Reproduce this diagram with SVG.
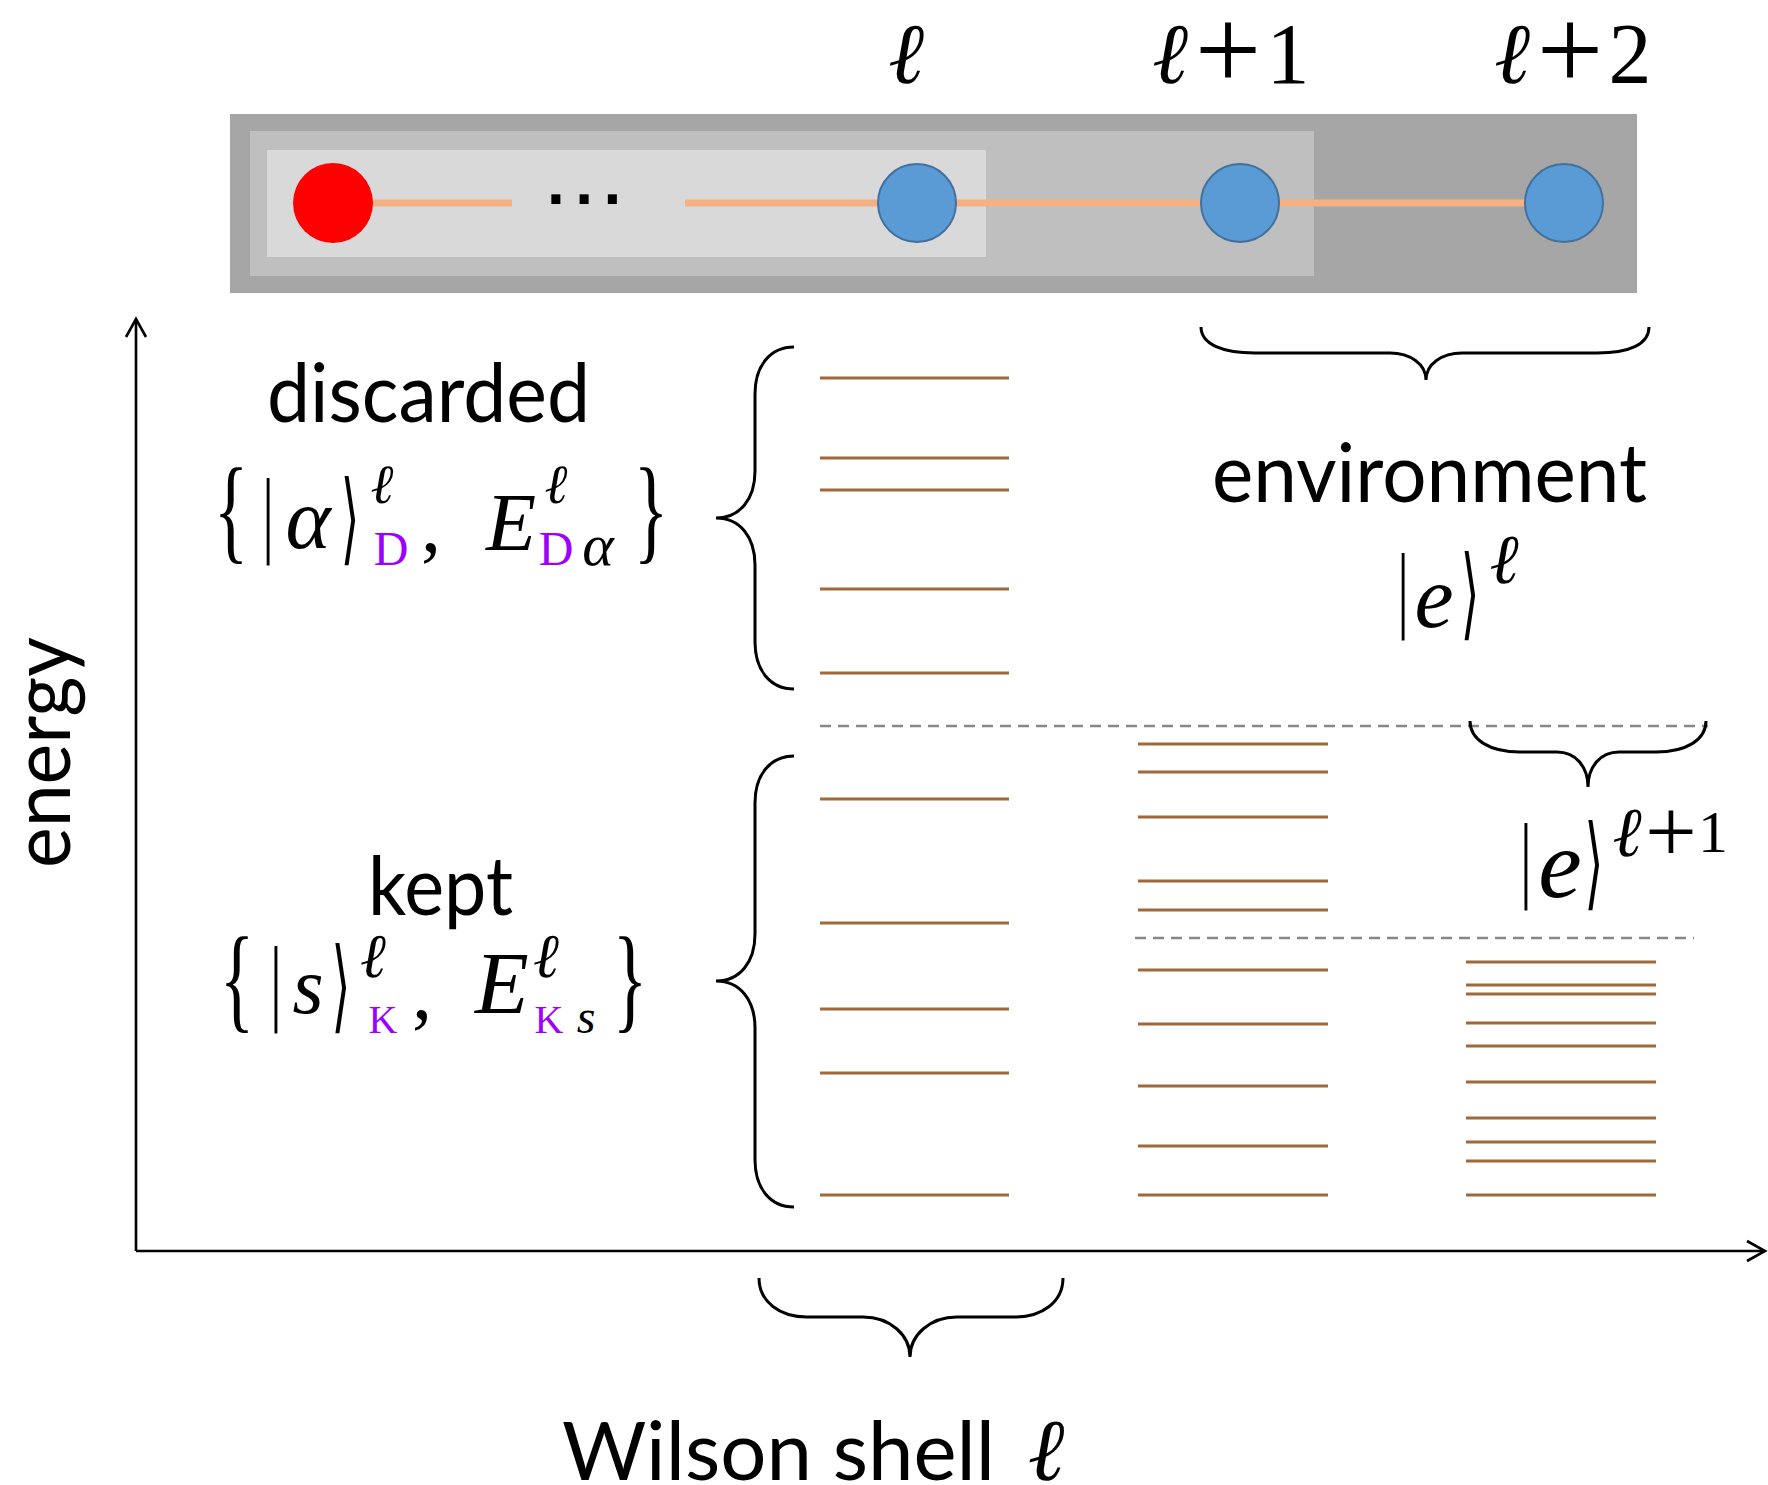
<svg xmlns="http://www.w3.org/2000/svg" width="1768" height="1485" viewBox="0 0 1768 1485">
  <defs>
    <marker id="open-arrow" markerUnits="userSpaceOnUse" markerWidth="26" markerHeight="26" viewBox="-3 -3 26 26" refX="18" refY="10" orient="auto">
      <path d="M0 0 L18 10 L0 20" fill="none" stroke="#000" stroke-width="2.6"/>
    </marker>
    <style>
      .lbl { font-family: Lato, "Open Sans", "DejaVu Sans", sans-serif; font-size: 82px; fill: #000; }
      .mi { font-family: "Liberation Serif", "DejaVu Serif", serif; font-style: italic; fill: #000; }
      .mr { font-family: "Liberation Serif", "DejaVu Serif", serif; fill: #000; }
      .ds { font-family: "DejaVu Sans", sans-serif; fill: #000; }
      .sub { fill: #9D00FF; }
      .lvl { stroke: #A0693A; stroke-width: 3; fill: none; }
      .dash { stroke: #888; stroke-width: 2.5; stroke-dasharray: 11 7; fill: none; }
      .brace { stroke: #000; stroke-width: 3; fill: none; }
      .axis { stroke: #000; stroke-width: 2.6; fill: none; }
      .chain { stroke: #F4B183; stroke-width: 7; fill: none; }
      .site { fill: #5B9BD5; stroke: #41719C; stroke-width: 2; }
    </style>
  </defs>
  <rect width="1768" height="1485" fill="#fff"/>

  <!-- Wilson chain with nested blocks -->
  <g id="chain-blocks">
    <rect x="230" y="114" width="1407" height="179" fill="#A6A6A6"/>
    <rect x="250" y="131" width="1064" height="145" fill="#BFBFBF"/>
    <rect x="267" y="150" width="719" height="107" fill="#D9D9D9"/>
  </g>
  <g id="connectors">
    <path class="chain" d="M333 203 H512 M685 203 H1564"/>
    <path class="axis" d="M136 1251 V319" marker-end="url(#open-arrow)"/>
    <path class="axis" d="M136 1251 H1765" marker-end="url(#open-arrow)"/>
  </g>
  <text x="547" y="204" font-family="'Liberation Sans', sans-serif" font-weight="bold" font-size="64" letter-spacing="10.5">...</text>
  <g id="impurity"><circle cx="333" cy="203" r="40" fill="#FF0000"/></g>
  <g id="site-l"><circle class="site" cx="917" cy="203" r="39"/></g>
  <g id="site-l1"><circle class="site" cx="1240" cy="203" r="39"/></g>
  <g id="site-l2"><circle class="site" cx="1564" cy="203" r="39"/></g>

  <!-- site labels -->
  <g id="site-labels">
    <text class="mi" x="906" y="83" font-size="86" text-anchor="middle">ℓ</text>
    <text class="mi" x="1170" y="83" font-size="86" text-anchor="middle">ℓ</text>
    <text class="mr" x="1228" y="90" font-size="118" text-anchor="middle">+</text>
    <text class="mr" x="1288" y="83" font-size="86" text-anchor="middle">1</text>
    <text class="mi" x="1512" y="83" font-size="86" text-anchor="middle">ℓ</text>
    <text class="mr" x="1570" y="90" font-size="118" text-anchor="middle">+</text>
    <text class="mr" x="1630" y="83" font-size="86" text-anchor="middle">2</text>
  </g>

  <!-- energy levels -->
  <g id="levels-shell-l">
    <path class="lvl" d="M820 378 H1009 M820 458 H1009 M820 490 H1009 M820 589 H1009 M820 673 H1009"/>
    <path class="lvl" d="M820 799 H1009 M820 923 H1009 M820 1009 H1009 M820 1073 H1009 M820 1195 H1009"/>
  </g>
  <g id="levels-shell-l1">
    <path class="lvl" d="M1138 744 H1328 M1138 772 H1328 M1138 817 H1328 M1138 881 H1328 M1138 910 H1328"/>
    <path class="lvl" d="M1138 970 H1328 M1138 1024 H1328 M1138 1086 H1328 M1138 1146 H1328 M1138 1195 H1328"/>
  </g>
  <g id="levels-shell-l2">
    <path class="lvl" d="M1466 962 H1656 M1466 985 H1656 M1466 994 H1656 M1466 1023 H1656 M1466 1046 H1656 M1466 1082 H1656 M1466 1118 H1656 M1466 1142 H1656 M1466 1161 H1656 M1466 1195 H1656"/>
  </g>
  <g id="truncation">
    <path class="dash" d="M820 726 H1708"/>
    <path class="dash" d="M1135 938 H1694"/>
  </g>

  <!-- braces -->
  <g id="braces">
    <path class="brace" d="M794 347 C770 347 755 366 755 394 L755 471 C755 499 740 518 716 518 C740 518 755 537 755 565 L755 642 C755 670 770 689 794 689"/>
    <path class="brace" d="M794 756 C770 756 755 775 755 803 L755 934 C755 962 740 981 716 981 C740 981 755 1000 755 1028 L755 1160 C755 1188 770 1207 794 1207"/>
    <path class="brace" d="M1201 327 C1201 344 1222 353 1255 353 L1390 353 C1410 353 1426 364 1426 380 C1426 364 1442 353 1462 353 L1597 353 C1630 353 1649 344 1649 327"/>
    <path class="brace" d="M1470 721 C1470 740 1490 752 1520 752 L1557 752 C1575 752 1588 766 1588 787 C1588 766 1601 752 1619 752 L1656 752 C1686 752 1706 740 1706 721"/>
    <path class="brace" d="M759 1278 C759 1302 780 1317 807 1317 L863 1317 C890 1317 910 1335 910 1357 C910 1335 930 1317 957 1317 L1015 1317 C1042 1317 1063 1302 1063 1278"/>
  </g>

  <!-- discarded states -->
  <g id="discarded">
    <text class="lbl" x="267" y="422" textLength="323" lengthAdjust="spacingAndGlyphs">discarded</text>
    <text class="mr" transform="translate(231,548) scale(0.62,1)" font-size="116" text-anchor="middle">{</text>
    <text class="ds" transform="translate(268,544) scale(0.4,1)" font-size="87" text-anchor="middle">|</text>
    <text class="mi" x="308" y="548" font-size="86" text-anchor="middle">α</text>
    <text class="ds" transform="translate(350,552) scale(0.55,1.15)" font-size="87" text-anchor="middle">⟩</text>
    <text class="mi" x="382" y="503" font-size="55" text-anchor="middle">ℓ</text>
    <text class="mr sub" x="391" y="565" font-size="48" text-anchor="middle">D</text>
    <text class="mr" x="431" y="551" font-size="80" text-anchor="middle">,</text>
    <text class="mi" x="511" y="550" font-size="82" text-anchor="middle">E</text>
    <text class="mi" x="556" y="503" font-size="55" text-anchor="middle">ℓ</text>
    <text class="mr sub" x="556" y="565" font-size="48" text-anchor="middle">D</text>
    <text class="mi" x="598" y="565" font-size="60" text-anchor="middle">α</text>
    <text class="mr" transform="translate(651,548) scale(0.62,1)" font-size="116" text-anchor="middle">}</text>
  </g>

  <!-- kept states -->
  <g id="kept">
    <text class="lbl" x="368" y="915" textLength="145" lengthAdjust="spacingAndGlyphs">kept</text>
    <text class="mr" transform="translate(237,1017) scale(0.62,1)" font-size="116" text-anchor="middle">{</text>
    <text class="ds" transform="translate(276,1012) scale(0.4,1)" font-size="88" text-anchor="middle">|</text>
    <text class="mi" x="308" y="1013" font-size="80" text-anchor="middle">s</text>
    <text class="ds" transform="translate(341,1020) scale(0.55,1.15)" font-size="88" text-anchor="middle">⟩</text>
    <text class="mi" x="373" y="977" font-size="62" text-anchor="middle">ℓ</text>
    <text class="mr sub" x="383" y="1033" font-size="40" text-anchor="middle">K</text>
    <text class="mr" x="422" y="1018" font-size="80" text-anchor="middle">,</text>
    <text class="mi" x="502" y="1013" font-size="88" text-anchor="middle">E</text>
    <text class="mi" x="546" y="977" font-size="62" text-anchor="middle">ℓ</text>
    <text class="mr sub" x="549" y="1033" font-size="40" text-anchor="middle">K</text>
    <text class="mi" x="586" y="1033" font-size="48" text-anchor="middle">s</text>
    <text class="mr" transform="translate(630,1017) scale(0.62,1)" font-size="116" text-anchor="middle">}</text>
  </g>

  <!-- environment states -->
  <g id="environment">
    <text class="lbl" x="1212" y="502" textLength="435" lengthAdjust="spacingAndGlyphs">environment</text>
    <text class="ds" transform="translate(1403,619) scale(0.4,1)" font-size="87" text-anchor="middle">|</text>
    <text class="mi" x="1434" y="627" font-size="88" text-anchor="middle">e</text>
    <text class="ds" transform="translate(1470,627) scale(0.55,1.15)" font-size="87" text-anchor="middle">⟩</text>
    <text class="mi" x="1504" y="583" font-size="70" text-anchor="middle">ℓ</text>
  </g>
  <g id="environment-next">
    <text class="ds" transform="translate(1526,889) scale(0.4,1)" font-size="88" text-anchor="middle">|</text>
    <text class="mi" x="1560" y="897" font-size="98" text-anchor="middle">e</text>
    <text class="ds" transform="translate(1594,897) scale(0.55,1.15)" font-size="88" text-anchor="middle">⟩</text>
    <text class="mi" x="1627" y="856" font-size="70" text-anchor="middle">ℓ</text>
    <text class="mr" x="1671" y="862" font-size="92" text-anchor="middle">+</text>
    <text class="mr" x="1713" y="852" font-size="60" text-anchor="middle">1</text>
  </g>

  <!-- axis labels -->
  <g id="axis-labels">
    <text class="lbl" transform="translate(70,868) rotate(-90)" x="0" y="0" textLength="231" lengthAdjust="spacingAndGlyphs">energy</text>
    <text class="lbl" x="562" y="1480" textLength="433" lengthAdjust="spacingAndGlyphs">Wilson shell</text>
    <text class="mi" x="1046" y="1480" font-size="88" text-anchor="middle">ℓ</text>
  </g>
</svg>
